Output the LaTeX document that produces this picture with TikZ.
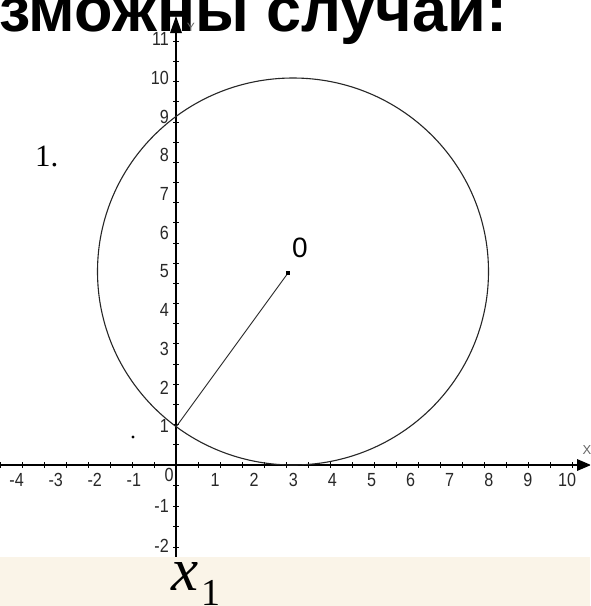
\documentclass[tikz,border=0pt]{standalone}
\usepackage{fontspec}
\setmainfont{Liberation Serif}
\setsansfont{Liberation Sans}
\definecolor{bandcol}{RGB}{250,244,232}
\definecolor{lblcol}{RGB}{40,40,40}
\begin{document}
\begin{tikzpicture}[x=1pt,y=-1pt,
  axis/.style={line width=1.6pt,black},
  tickmark/.style={line width=1pt,black},
  curve/.style={line width=1.1pt,black!85},
  lbl/.style={inner sep=0pt,text=lblcol,font=\sffamily\fontsize{19}{19}\selectfont,xscale=0.85},
]
\useasboundingbox (0,0) rectangle (590,606);
\clip (0,0) rectangle (590,606);
\fill[white] (0,0) rectangle (590,606);
% title
\node[anchor=base west,inner sep=0pt,font=\sffamily\bfseries\fontsize{63}{63}\selectfont] (title) at (-1,31) {зможны случаи:};
% ticks
\foreach \i in {-8,...,18} \draw[tickmark] (176+22*\i,462) -- (176+22*\i,468);
\foreach \i in {1,...,21} \draw[tickmark] (173,465-20.17*\i) -- (179,465-20.17*\i);
\foreach \i in {1,...,4} \draw[tickmark] (173,465+20.6*\i) -- (179,465+20.6*\i);
% axes
\draw[axis] (0,465) -- (580,465);
\draw[axis] (176,557) -- (176,28);
\fill (591,465) -- (577,459) -- (577,471) -- cycle;
\fill (176,16) -- (170,33) -- (182,33) -- cycle;
\node[inner sep=0pt,text=black!60,font=\sffamily\fontsize{12}{12}\selectfont] (ylab) at (191,27) {Y};
\node[inner sep=0pt,text=black!60,font=\sffamily\fontsize{13}{13}\selectfont] (xlab) at (587,450) {X};
% labels
\foreach \k in {1,...,11} \node[lbl,anchor=east] (yl\k) at (169,465-38.7*\k) {\k};
\node[lbl,anchor=east] (ylm1) at (169,506) {-1};
\node[lbl,anchor=east] (ylm2) at (169,546) {-2};
\foreach \k in {1,...,10} \node[lbl] (xl\k) at (176+39.1*\k,480) {\k};
\foreach \k in {1,...,4} \node[lbl] (xlm\k) at (173-39.1*\k,480) {-\k};
\node[lbl] (xl0) at (169,475) {0};
% circle
\draw[curve] (293,271.5) ellipse [x radius=195.5pt, y radius=193.5pt];
% radius
\coordinate (A) at (176,427);
\coordinate (O) at (288,273);
\draw[line width=0.9pt,black!85] (A) -- (O);
\fill (O) ++(-1.8,-1.8) rectangle ++(3.6,3.6);
\node[inner sep=0pt,font=\sffamily\fontsize{28}{28}\selectfont] (olab) at (300,248) {0};
\fill (133,437) circle (1.6pt);
\node[anchor=base west,inner sep=0pt,font=\fontsize{31}{31}\selectfont] (num) at (35,166) {1.};
% band
\fill[bandcol] (0,557) rectangle (590,606);
\node[anchor=base west,inner sep=0pt] (x1) at (171,590) {\fontsize{61}{61}\selectfont\itshape x};
\node[anchor=base west,inner sep=0pt] (sub) at (201,605) {\fontsize{38}{38}\selectfont 1};
\end{tikzpicture}
\end{document}
